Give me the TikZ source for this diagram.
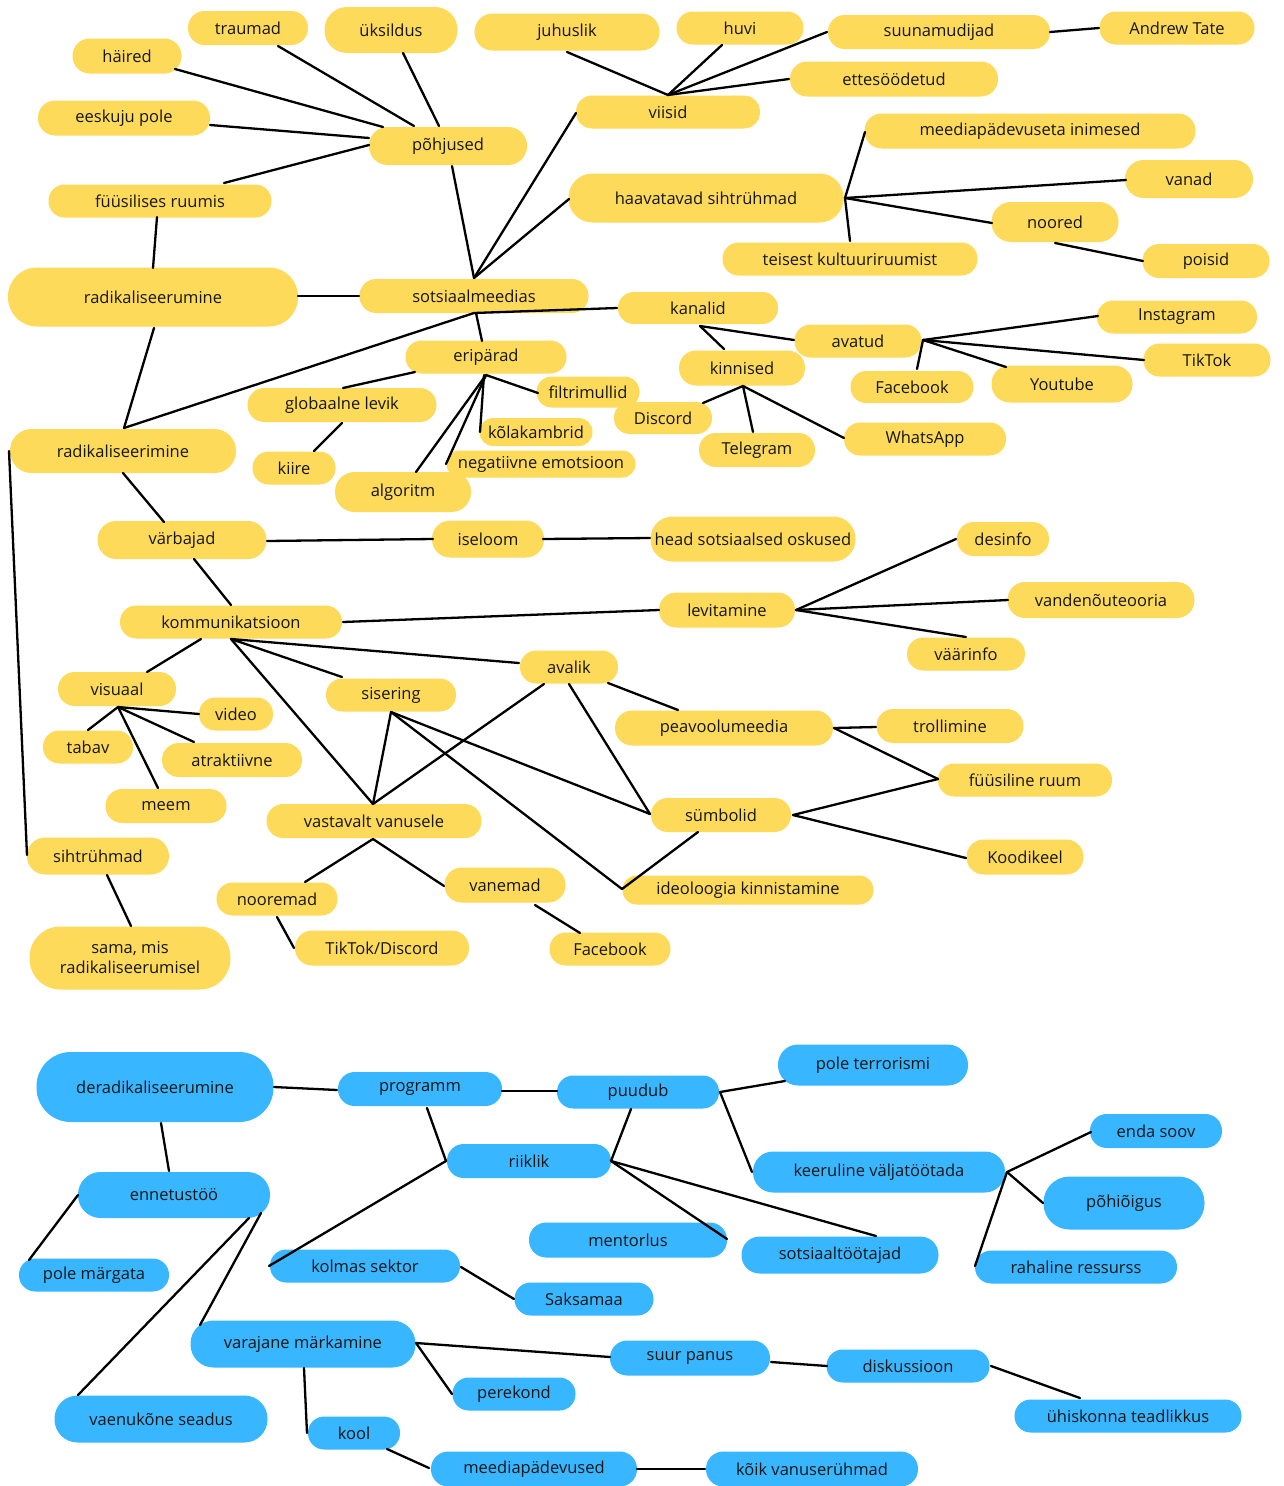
\documentclass[tikz,border=0pt]{standalone}
\usepackage{fontspec}
\setmainfont{Open Sans}
\usetikzlibrary{calc}
\definecolor{yel}{HTML}{FDDA5A}
\definecolor{blu}{HTML}{38B6FF}
\definecolor{txt}{HTML}{161616}
\tikzset{
 box/.style={rectangle, inner sep=0pt, text=txt, font=\fontsize{16.5}{20}\selectfont, align=center},
 yb/.style={box, fill=yel},
 bb/.style={box, fill=blu},
 ln/.style={line width=2.3pt, line cap=round, draw=black}
}
\newcommand\YN[6]{\node[yb, minimum width=#4pt, minimum height=#5pt, rounded corners={0.49*#5pt}] (#1) at (#2,#3) {#6};}
\newcommand\BN[6]{\node[bb, minimum width=#4pt, minimum height=#5pt, rounded corners={0.49*#5pt}] (#1) at (#2,#3) {#6};}
\newcommand\ED[6]{\draw[ln] ($(#1)+(#2,#3)$) -- ($(#4)+(#5,#6)$);}
\begin{document}
\begin{tikzpicture}[x=1pt,y=-1pt]
\fill[white] (0,0) rectangle (1284,1486);
\useasboundingbox (0,0) rectangle (1284,1486);
% yellow nodes
\YN{traumad}{248}{28}{120}{34}{traumad}
\YN{uksildus}{391}{30}{133}{46}{üksildus}
\YN{juhuslik}{567}{32}{185}{37}{juhuslik}
\YN{huvi}{740}{28}{127}{33}{huvi}
\YN{suunamudijad}{939}{32}{222}{34}{suunamudijad}
\YN{andrew}{1177}{28}{155}{33}{Andrew Tate}
\YN{haired}{127}{56}{109}{35}{häired}
\YN{ettesoodetud}{894}{79}{208}{35}{ettesöödetud}
\YN{eeskuju}{124}{118}{172}{35}{eeskuju pole}
\YN{viisid}{668}{112}{184}{33}{viisid}
\YN{pohjused}{448}{146}{158}{38}{põhjused}
\YN{meediapadevuseta}{1030}{131}{331}{35}{meediapädevuseta inimesed}
\YN{vanad}{1189}{179}{128}{38}{vanad}
\YN{haavatavad}{706}{198}{275}{49}{haavatavad sihtrühmad}
\YN{fuusilises}{160}{201}{223}{33}{füüsilises ruumis}
\YN{noored}{1055}{222}{127}{40}{noored}
\YN{teisest}{850}{259}{255}{33}{teisest kultuuriruumist}
\YN{poisid}{1206}{261}{127}{34}{poisid}
\YN{radikaliseerumine}{153}{297}{290}{59}{radikaliseerumine}
\YN{sotsiaalmeedias}{474}{296}{229}{34}{sotsiaalmeedias}
\YN{kanalid}{698}{308}{160}{32}{kanalid}
\YN{instagram}{1177}{317}{160}{33}{Instagram}
\YN{avatud}{858}{341}{127}{33}{avatud}
\YN{eriparad}{486}{357}{161}{33}{eripärad}
\YN{tiktok}{1207}{360}{127}{33}{TikTok}
\YN{kinnised}{742}{368}{126}{35}{kinnised}
\YN{facebooka}{912}{387}{123}{32}{Facebook}
\YN{youtube}{1062}{384}{141}{37}{Youtube}
\YN{filtrimullid}{588}{392}{103}{31}{filtrimullid}
\YN{globaalne}{342}{405}{189}{34}{globaalne levik}
\YN{discord}{663}{418}{98}{32}{Discord}
\YN{kolakambrid}{536}{432}{113}{28}{kõlakambrid}
\YN{whatsapp}{925}{439}{162}{33}{WhatsApp}
\YN{telegram}{757}{450}{116}{34}{Telegram}
\YN{radikaliseerimine}{123}{451}{226}{44}{radikaliseerimine}
\YN{kiire}{294}{468}{83}{33}{kiire}
\YN{negatiivne}{541}{464}{189}{27}{negatiivne emotsioon}
\YN{algoritm}{403}{492}{136}{40}{algoritm}
\YN{varbajad}{182}{540}{169}{38}{värbajad}
\YN{iseloom}{488}{539}{112}{37}{iseloom}
\YN{head}{753}{539}{205}{45}{head sotsiaalsed oskused}
\YN{desinfo}{1003}{539}{92}{34}{desinfo}
\YN{vandenou}{1101}{600}{187}{36}{vandenõuteooria}
\YN{levitamine}{727}{610}{136}{35}{levitamine}
\YN{kommunikatsioon}{231}{622}{222}{33}{kommunikatsioon}
\YN{vaarinfo}{966}{654}{118}{33}{väärinfo}
\YN{avalik}{569}{667}{98}{33}{avalik}
\YN{visuaal}{117}{689}{118}{34}{visuaal}
\YN{sisering}{391}{695}{130}{33}{sisering}
\YN{video}{236}{714}{74}{33}{video}
\YN{peavool}{724}{728}{218}{35}{peavoolumeedia}
\YN{trollimine}{950}{726}{147}{34}{trollimine}
\YN{tabav}{88}{747}{90}{33}{tabav}
\YN{atraktiivne}{232}{760}{140}{34}{atraktiivne}
\YN{fuusiline}{1025}{780}{174}{33}{füüsiline ruum}
\YN{meem}{166}{806}{121}{34}{meem}
\YN{sumbolid}{721}{815}{140}{34}{sümbolid}
\YN{vastavalt}{374}{821}{215}{34}{vastavalt vanusele}
\YN{sihtruhmad}{98}{856}{142}{37}{sihtrühmad}
\YN{koodikeel}{1025}{857}{117}{35}{Koodikeel}
\YN{vanemad}{505}{885}{121}{35}{vanemad}
\YN{ideoloogia}{748}{890}{251}{29}{ideoloogia kinnistamine}
\YN{nooremad}{277}{899}{121}{33}{nooremad}
\YN{sama}{130}{958}{201}{63}{sama, mis\\radikaliseerumisel}
\YN{tiktokdiscord}{382}{948}{174}{35}{TikTok/Discord}
\YN{facebookb}{610}{949}{121}{33}{Facebook}
% blue nodes
\BN{derad}{155}{1087}{237}{70}{deradikaliseerumine}
\BN{poleterr}{873}{1065}{190}{41}{pole terrorismi}
\BN{programm}{420}{1089}{164}{34}{programm}
\BN{puudub}{638}{1092}{162}{33}{puudub}
\BN{endasoov}{1156}{1131}{132}{34}{enda soov}
\BN{riiklik}{529}{1161}{164}{34}{riiklik}
\BN{keeruline}{879}{1172}{252}{41}{keeruline väljatöötada}
\BN{ennetustoo}{174}{1195}{192}{46}{ennetustöö}
\BN{pohioigus}{1124}{1203}{161}{53}{põhiõigus}
\BN{mentorlus}{628}{1240}{198}{35}{mentorlus}
\BN{sotsiaaltootajad}{840}{1255}{197}{37}{sotsiaaltöötajad}
\BN{kolmas}{365}{1266}{190}{33}{kolmas sektor}
\BN{rahaline}{1076}{1267}{202}{33}{rahaline ressurss}
\BN{polemargata}{94}{1275}{150}{33}{pole märgata}
\BN{saksamaa}{584}{1299}{139}{33}{Saksamaa}
\BN{varajane}{303}{1344}{225}{47}{varajane märkamine}
\BN{suurpanus}{690}{1358}{160}{35}{suur panus}
\BN{diskussioon}{908}{1366}{163}{33}{diskussioon}
\BN{perekond}{514}{1394}{123}{33}{perekond}
\BN{uhiskonna}{1128}{1416}{227}{33}{ühiskonna teadlikkus}
\BN{vaenukone}{161}{1419}{213}{47}{vaenukõne seadus}
\BN{kool}{354}{1433}{92}{33}{kool}
\BN{meediapadevused}{534}{1469}{206}{35}{meediapädevused}
\BN{koik}{812}{1469}{212}{35}{kõik vanuserühmad}
% connectors: yellow part
\ED{haired}{48}{13}{pohjused}{-65}{-19}
\ED{traumad}{30}{18}{pohjused}{-34}{-20}
\ED{uksildus}{12}{23}{pohjused}{-9}{-20}
\ED{eeskuju}{86}{7}{pohjused}{-79}{-8}
\ED{fuusilises}{64}{-18}{pohjused}{-79}{-1}
\ED{pohjused}{4}{20}{sotsiaalmeedias}{0}{-18}
\ED{sotsiaalmeedias}{0}{-18}{viisid}{-92}{1}
\ED{sotsiaalmeedias}{0}{-18}{haavatavad}{-137}{1}
\ED{fuusilises}{-3}{16}{radikaliseerumine}{0}{-29}
\ED{radikaliseerumine}{145}{-1}{sotsiaalmeedias}{-115}{0}
\ED{radikaliseerumine}{1}{31}{radikaliseerimine}{1}{-23}
\ED{sotsiaalmeedias}{0}{17}{radikaliseerimine}{1}{-23}
\ED{sotsiaalmeedias}{0}{17}{kanalid}{-81}{0}
\ED{sotsiaalmeedias}{2}{17}{eriparad}{-4}{-16}
\ED{juhuslik}{0}{20}{viisid}{0}{-17}
\ED{huvi}{-18}{17}{viisid}{0}{-17}
\ED{suunamudijad}{-112}{0}{viisid}{0}{-17}
\ED{ettesoodetud}{-105}{0}{viisid}{0}{-17}
\ED{suunamudijad}{111}{0}{andrew}{-78}{0}
\ED{haavatavad}{139}{0}{meediapadevuseta}{-165}{1}
\ED{haavatavad}{139}{0}{vanad}{-63}{1}
\ED{haavatavad}{139}{0}{noored}{-63}{1}
\ED{haavatavad}{139}{0}{teisest}{0}{-18}
\ED{noored}{0}{21}{poisid}{-63}{0}
\ED{kanalid}{2}{18}{avatud}{-64}{-1}
\ED{kanalid}{2}{18}{kinnised}{-18}{-19}
\ED{kinnised}{1}{18}{discord}{40}{-15}
\ED{kinnised}{1}{18}{telegram}{-4}{-18}
\ED{kinnised}{1}{18}{whatsapp}{-81}{-1}
\ED{avatud}{65}{-1}{instagram}{-79}{-1}
\ED{avatud}{65}{-1}{tiktok}{-63}{0}
\ED{avatud}{65}{-1}{youtube}{-56}{-17}
\ED{avatud}{65}{-1}{facebooka}{5}{-18}
\ED{eriparad}{-71}{15}{globaalne}{1}{-17}
\ED{eriparad}{0}{18}{filtrimullid}{-50}{1}
\ED{eriparad}{-2}{18}{kolakambrid}{-56}{0}
\ED{eriparad}{0}{18}{negatiivne}{-95}{0}
\ED{eriparad}{0}{18}{algoritm}{13}{-20}
\ED{globaalne}{0}{18}{kiire}{20}{-17}
\ED{radikaliseerimine}{-114}{0}{sihtruhmad}{-71}{-1}
\ED{radikaliseerimine}{0}{22}{varbajad}{-18}{-18}
\ED{varbajad}{85}{1}{iseloom}{-55}{0}
\ED{iseloom}{55}{0}{head}{-103}{-1}
\ED{varbajad}{12}{19}{kommunikatsioon}{0}{-17}
\ED{kommunikatsioon}{112}{0}{levitamine}{-68}{0}
\ED{levitamine}{69}{0}{desinfo}{-47}{0}
\ED{levitamine}{69}{0}{vandenou}{-93}{0}
\ED{levitamine}{69}{0}{vaarinfo}{0}{-17}
\ED{kommunikatsioon}{-30}{17}{visuaal}{30}{-17}
\ED{kommunikatsioon}{0}{17}{avalik}{-50}{-4}
\ED{kommunikatsioon}{0}{17}{sisering}{-49}{-18}
\ED{kommunikatsioon}{0}{17}{vastavalt}{-1}{-17}
\ED{visuaal}{1}{18}{video}{-37}{0}
\ED{visuaal}{1}{18}{tabav}{0}{-17}
\ED{visuaal}{1}{18}{atraktiivne}{-38}{-18}
\ED{visuaal}{1}{18}{meem}{-8}{-18}
\ED{sisering}{0}{17}{vastavalt}{-1}{-17}
\ED{sisering}{0}{17}{sumbolid}{-71}{-1}
\ED{sisering}{0}{17}{ideoloogia}{-126}{-1}
\ED{avalik}{-25}{17}{vastavalt}{-1}{-17}
\ED{avalik}{0}{17}{sumbolid}{-71}{-1}
\ED{avalik}{39}{16}{peavool}{-46}{-18}
\ED{peavool}{110}{0}{trollimine}{-74}{1}
\ED{peavool}{110}{0}{fuusiline}{-87}{-1}
\ED{sumbolid}{72}{0}{fuusiline}{-87}{-1}
\ED{sumbolid}{72}{0}{koodikeel}{-59}{1}
\ED{sumbolid}{-23}{17}{ideoloogia}{-126}{-1}
\ED{vastavalt}{-1}{18}{nooremad}{28}{-17}
\ED{vastavalt}{-1}{18}{vanemad}{-61}{1}
\ED{nooremad}{0}{18}{tiktokdiscord}{-88}{0}
\ED{vanemad}{30}{20}{facebookb}{-30}{-16}
\ED{sihtruhmad}{9}{19}{sama}{1}{-32}
% connectors: blue part
\ED{derad}{119}{0}{programm}{-83}{1}
\ED{programm}{82}{2}{puudub}{-81}{-1}
\ED{derad}{6}{36}{ennetustoo}{-5}{-24}
\ED{programm}{7}{19}{riiklik}{-83}{0}
\ED{riiklik}{-83}{0}{kolmas}{-96}{0}
\ED{kolmas}{96}{1}{saksamaa}{-70}{0}
\ED{ennetustoo}{-96}{0}{polemargata}{-65}{-15}
\ED{ennetustoo}{87}{18}{varajane}{-103}{-19}
\ED{ennetustoo}{75}{23}{vaenukone}{-83}{-24}
\ED{varajane}{113}{-1}{suurpanus}{-80}{-1}
\ED{varajane}{113}{-1}{perekond}{-62}{0}
\ED{varajane}{1}{24}{kool}{-47}{0}
\ED{kool}{33}{16}{meediapadevused}{-105}{-1}
\ED{meediapadevused}{103}{0}{koik}{-107}{0}
\ED{puudub}{82}{0}{poleterr}{-88}{16}
\ED{puudub}{82}{0}{keeruline}{-127}{0}
\ED{puudub}{-7}{17}{riiklik}{82}{0}
\ED{riiklik}{82}{0}{mentorlus}{99}{-1}
\ED{riiklik}{82}{0}{sotsiaaltootajad}{36}{-19}
\ED{keeruline}{128}{0}{endasoov}{-65}{1}
\ED{keeruline}{128}{0}{pohioigus}{-81}{0}
\ED{keeruline}{128}{0}{rahaline}{-101}{-1}
\ED{suurpanus}{81}{4}{diskussioon}{-81}{0}
\ED{diskussioon}{83}{0}{uhiskonna}{-48}{-18}
\end{tikzpicture}
\end{document}
